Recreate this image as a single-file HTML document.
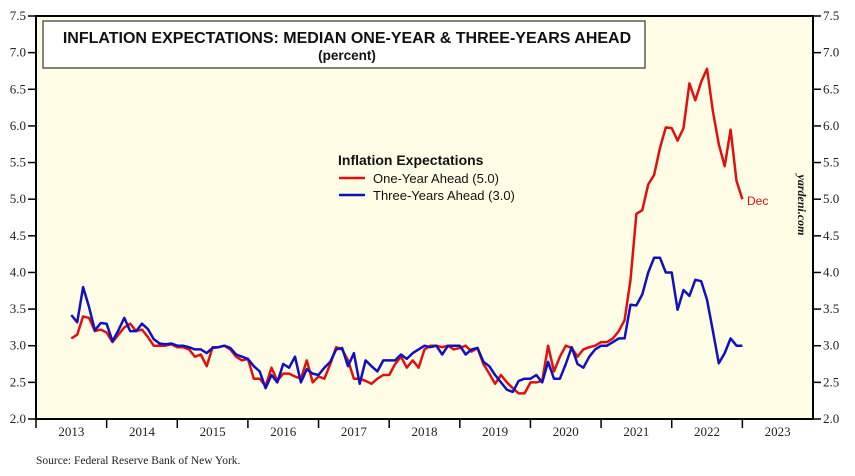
<!DOCTYPE html>
<html><head><meta charset="utf-8"><style>
body{margin:0;background:#fff;width:855px;height:476px;overflow:hidden}
svg{display:block}
</style></head><body>
<svg id="chart" width="855" height="476" xmlns="http://www.w3.org/2000/svg">
<rect x="36" y="16" width="777" height="403" fill="#fffde6"/>
<g id="grid"></g>
<g id="series"></g>
<rect x="36" y="16" width="777" height="403" fill="none" stroke="#000" stroke-width="2"/>
<g id="axes" font-family="Liberation Serif, serif" font-size="13" fill="#222"></g>
<g>
<rect x="43" y="21" width="602" height="47" fill="#fff" stroke="#333" stroke-width="1.2"/>
<text x="347" y="43" text-anchor="middle" font-family="Liberation Sans, sans-serif" font-weight="bold" font-size="16" fill="#111">INFLATION EXPECTATIONS: MEDIAN ONE-YEAR &amp; THREE-YEARS AHEAD</text>
<text x="347" y="60" text-anchor="middle" font-family="Liberation Sans, sans-serif" font-weight="bold" font-size="13.5" fill="#111">(percent)</text>
</g>
<g font-family="Liberation Sans, sans-serif" fill="#111">
<text x="338" y="165" font-weight="bold" font-size="14">Inflation Expectations</text>
<line x1="339" y1="178" x2="365" y2="178" stroke="#e01010" stroke-width="2.5"/>
<text x="373" y="183" font-size="13">One-Year Ahead (5.0)</text>
<line x1="339" y1="195" x2="365" y2="195" stroke="#1010c0" stroke-width="2.5"/>
<text x="373" y="200" font-size="13">Three-Years Ahead (3.0)</text>
</g>
<text x="747" y="205" font-family="Liberation Sans, sans-serif" font-size="12" fill="#e01010">Dec</text>
<text transform="translate(798,205) rotate(90)" text-anchor="middle" font-family="Liberation Serif, serif" font-style="italic" font-weight="bold" font-size="12" fill="#111">yardeni.com</text>
<text x="36" y="464" font-family="Liberation Serif, serif" font-size="11.5" fill="#222">Source: Federal Reserve Bank of New York.</text>
</svg>
<script>
const years=[2013,2014,2015,2016,2017,2018,2019,2020,2021,2022,2023];
const yTicks=[2.0,2.5,3.0,3.5,4.0,4.5,5.0,5.5,6.0,6.5,7.0,7.5];
const startYear=2013, startMonth=5;
const oneYear=[3.10,3.15,3.40,3.38,3.20,3.22,3.18,
3.05,3.15,3.25,3.30,3.20,3.22,3.12,3.00,3.00,3.00,3.02,2.98,
2.98,2.95,2.85,2.88,2.72,2.98,2.98,3.00,2.95,2.85,2.80,2.82,
2.55,2.55,2.45,2.70,2.52,2.62,2.62,2.58,2.55,2.80,2.50,2.58,
2.55,2.75,2.98,2.95,2.80,2.55,2.55,2.52,2.48,2.55,2.60,2.60,
2.75,2.85,2.70,2.80,2.70,2.95,3.00,3.00,2.98,3.00,2.95,2.97,
3.00,2.92,2.97,2.75,2.62,2.48,2.60,2.50,2.42,2.35,2.35,2.50,
2.50,2.52,3.00,2.65,2.85,3.00,2.97,2.85,2.95,2.98,3.00,3.05,
3.05,3.10,3.20,3.35,3.90,4.80,4.85,5.20,5.33,5.70,5.98,5.97,
5.80,5.97,6.58,6.35,6.60,6.78,6.20,5.75,5.45,5.95,5.25,5.00];
const threeYear=[3.42,3.32,3.80,3.53,3.21,3.31,3.30,
3.06,3.21,3.38,3.20,3.20,3.30,3.23,3.09,3.03,3.02,3.03,3.00,
3.00,2.98,2.95,2.95,2.90,2.97,2.98,3.00,2.97,2.88,2.85,2.82,
2.72,2.65,2.42,2.60,2.50,2.75,2.70,2.85,2.50,2.68,2.62,2.60,
2.70,2.78,2.95,2.97,2.72,2.90,2.48,2.80,2.72,2.65,2.80,2.80,
2.80,2.88,2.82,2.90,2.95,3.00,2.98,3.00,2.88,3.00,3.00,3.00,
2.88,2.95,2.97,2.78,2.72,2.60,2.50,2.40,2.37,2.52,2.55,2.55,
2.60,2.50,2.78,2.55,2.55,2.75,2.98,2.75,2.70,2.85,2.95,3.00,
3.00,3.05,3.10,3.10,3.56,3.55,3.70,4.00,4.20,4.20,4.00,4.00,
3.49,3.76,3.68,3.90,3.88,3.63,3.20,2.76,2.90,3.10,3.00,3.00];
const L=36,R=813,T=16,B=419;
const xYear=v=>L+(v-2013)*(R-L)/11;
const yVal=v=>B-(v-2.0)*(B-T)/5.5;
const NS='http://www.w3.org/2000/svg';
const axes=document.getElementById('axes');
function mk(tag,attrs,parent){const e=document.createElementNS(NS,tag);for(const k in attrs)e.setAttribute(k,attrs[k]);parent.appendChild(e);return e;}
yTicks.forEach(v=>{
 const y=yVal(v);
 const t1=mk('line',{x1:L-8,y1:y,x2:L,y2:y,stroke:'#000','stroke-width':1.5},axes);
 
 
 const t2=mk('line',{x1:R,y1:y,x2:R+8,y2:y,stroke:'#000','stroke-width':1.5},axes);
 
 
 const a=mk('text',{x:L-10,y:y+4,'text-anchor':'end'},axes);a.textContent=v.toFixed(1);
 
 
 const b=mk('text',{x:R+10,y:y+4},axes);b.textContent=v.toFixed(1);
 
 
});
years.forEach((yr,i)=>{
 const x=xYear(yr);
 const t=mk('line',{x1:x,y1:B,x2:x,y2:B+9,stroke:'#000','stroke-width':1.5},axes);
 
 
 const lb=mk('text',{x:xYear(yr+0.5),y:B+17,'text-anchor':'middle'},axes);lb.textContent=yr;
 
 
});
const xIdx=i=>xYear(startYear+(startMonth+i+1)/12);
const ser=document.getElementById('series');
function line(vals,color,name){
 const d=vals.map((v,i)=>(i?'L':'M')+xIdx(i).toFixed(1)+','+yVal(v).toFixed(1)).join(' ');
 const p=mk('path',{d:d,fill:'none',stroke:color,'stroke-width':2.5,'stroke-linejoin':'round'},ser);
 
 
}
line(oneYear,'#e01010','one-year-ahead-line');
line(threeYear,'#1010c0','three-years-ahead-line');
</script>
</body></html>
